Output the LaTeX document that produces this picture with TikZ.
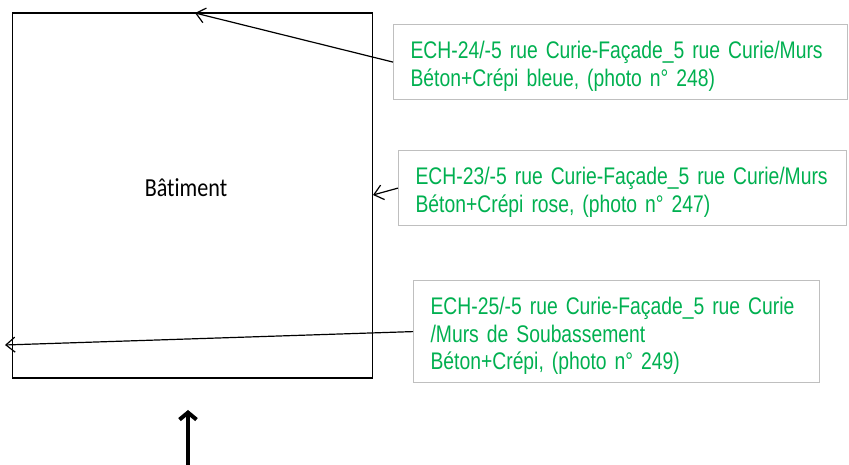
\documentclass[tikz,border=0pt]{standalone}
\usepackage{fontspec}
\setmainfont{Liberation Sans}
\newfontfamily\obsfont[FakeStretch=0.805]{Liberation Sans}
\newfontfamily\batfont[FakeStretch=0.85, Ligatures=NoCommon]{Carlito}
\usetikzlibrary{arrows.meta}
\definecolor{vert}{RGB}{0,176,80}
\definecolor{bord}{RGB}{191,191,191}
\newcommand{\haut}{\rule{0pt}{26pt}}
\begin{document}
\begin{tikzpicture}[x=1pt, y=1pt, >={Straight Barb[length=9pt,width=15pt]}]
    \tikzstyle{obs}=[draw=bord, line width=1.2pt, anchor=north west, align=left, inner xsep=17pt,
      text=vert, font=\obsfont\fontsize{24}{27.3}\selectfont]
    \tikzstyle{fl}=[->, line width=1.2pt]
    \useasboundingbox (0,0) rectangle (849,465);
    % batiment
    \node[draw, line width=1.2pt, minimum width=360pt, minimum height=365pt] (bat) at (192.8,269.4) {};
    \node[font=\batfont\fontsize{26}{30}\selectfont] (nom) at (186,277) {Bâtiment};
    % observations
    \node[obs, minimum width=454pt, minimum height=75pt, text width=420pt] (ech24) at (393,441)
      {\mbox{\haut ECH-24/-5 rue Curie-Façade\_5 rue Curie/Murs}\\\mbox{Béton+Crépi bleue, (photo n° 248)}};
    \node[obs, minimum width=448pt, minimum height=75pt, text width=414pt] (ech23) at (398,315)
      {\mbox{\haut ECH-23/-5 rue Curie-Façade\_5 rue Curie/Murs}\\\mbox{Béton+Crépi rose, (photo n° 247)}};
    \node[obs, minimum width=406pt, minimum height=102pt, text width=372pt] (ech25) at (413,185)
      {\mbox{\haut ECH-25/-5 rue Curie-Façade\_5 rue Curie}\\\mbox{/Murs de Soubassement}\\\mbox{Béton+Crépi, (photo n° 249)}};
    \coordinate (p24) at (195,452);
    \coordinate (p23) at (373,270);
    \coordinate (p25) at (5,120);
    \draw[fl] (ech24.west) -- (p24);
    \draw[fl] (ech23.west) -- (p23);
    \draw[fl] (ech25.west) -- (p25);
    % entree
    \coordinate (entree) at (188,0);
    \coordinate (pointe) at (188,55);
    \draw[-{Straight Barb[length=7pt,width=17pt]}, line width=4pt] (entree) -- (pointe);
\end{tikzpicture}
\end{document}
